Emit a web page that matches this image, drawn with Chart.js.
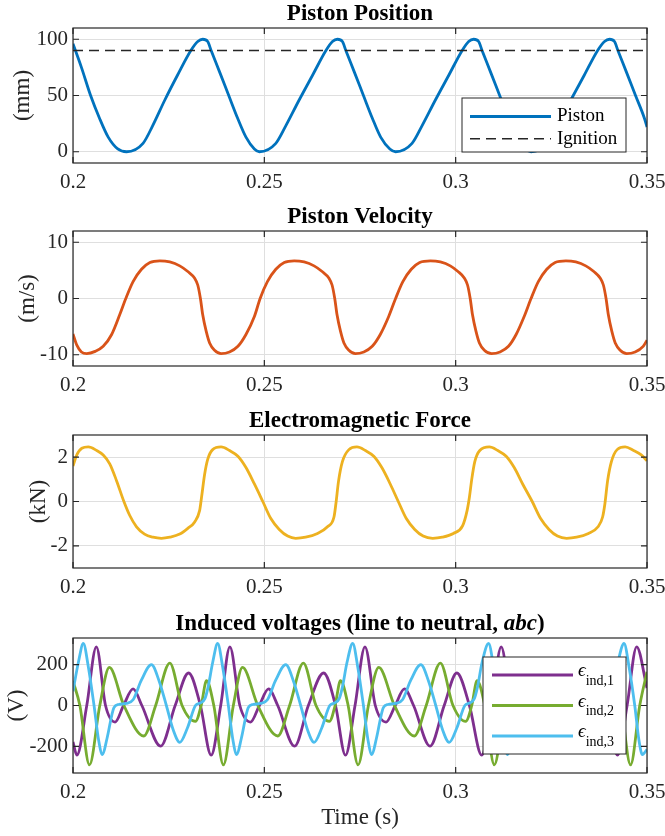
<!DOCTYPE html>
<html>
<head>
<meta charset="utf-8">
<script src="https://cdn.jsdelivr.net/npm/chart.js@4.4.1/dist/chart.umd.min.js"></script>
<style>
  html, body { margin: 0; padding: 0; background: #fff; }
  #wrap { position: relative; width: 665px; height: 836px; }
  canvas { position: absolute; left: 0; }
</style>
</head>
<body>
<div id="wrap">
  <canvas id="posChart" width="665" height="203" style="top:0px"></canvas>
  <canvas id="velChart" width="665" height="203" style="top:203px"></canvas>
  <canvas id="forceChart" width="665" height="201" style="top:407px"></canvas>
  <canvas id="voltChart" width="665" height="226" style="top:610px"></canvas>
</div>
<script>
// shared time axis
const xTicks = [0.2, 0.25, 0.3, 0.35];

// Piston position (mm)
const posTime = [0.2000, 0.2022, 0.2046, 0.2069, 0.2092, 0.2117, 0.2140,
  0.2183, 0.2208, 0.2240, 0.2273, 0.2308, 0.2326, 0.2339,
  0.2352, 0.2361, 0.2383, 0.2407, 0.2430, 0.2452, 0.2474, 0.2487,
  0.2530, 0.2556, 0.2591, 0.2626, 0.2661, 0.2678, 0.2691,
  0.2704, 0.2713, 0.2735, 0.2759, 0.2782, 0.2804, 0.2828, 0.2843,
  0.2886, 0.2912, 0.2947, 0.2982, 0.3017, 0.3034, 0.3047,
  0.3060, 0.3069, 0.3091, 0.3115, 0.3138, 0.3160, 0.3183, 0.3197,
  0.3240, 0.3266, 0.3301, 0.3336, 0.3371, 0.3389, 0.3402,
  0.3415, 0.3424, 0.3446, 0.3470, 0.3493, 0.3500];
const posMm = [96, 75, 50, 30, 13, 2.5, 0,
  7.5, 23, 46, 68, 90, 98, 100,
  98, 90, 71, 50, 30, 13, 2.5, 0,
  7.5, 23, 46, 68, 90, 98, 100,
  98, 90, 71, 50, 30, 13, 2.5, 0,
  7.5, 23, 46, 68, 90, 98, 100,
  98, 90, 71, 50, 30, 13, 2.5, 0,
  7.5, 23, 46, 68, 90, 98, 100,
  98, 90, 71, 50, 30, 22];
const ignitionTime = [0.2, 0.35];
const ignitionMm = [90, 90];
const posTicks = [0, 50, 100];

// Piston velocity (m/s)
const velTime = [0.2000, 0.2010, 0.2022, 0.2036, 0.2058, 0.2079, 0.2101, 0.2122, 0.2138,
  0.2157, 0.2179, 0.2201, 0.2227, 0.2253, 0.2279, 0.2300, 0.2318, 0.2326, 0.2333,
  0.2339, 0.2348, 0.2357, 0.2370, 0.2387, 0.2409, 0.2431, 0.2452, 0.2474, 0.2489,
  0.2508, 0.2530, 0.2552, 0.2578, 0.2604, 0.2630, 0.2651, 0.2669, 0.2677, 0.2684,
  0.2690, 0.2699, 0.2708, 0.2721, 0.2738, 0.2760, 0.2782, 0.2803, 0.2825, 0.2843,
  0.2862, 0.2884, 0.2906, 0.2934, 0.2960, 0.2986, 0.3006, 0.3023, 0.3031, 0.3038,
  0.3044, 0.3053, 0.3062, 0.3075, 0.3094, 0.3116, 0.3138, 0.3158, 0.3179, 0.3197,
  0.3216, 0.3238, 0.3260, 0.3288, 0.3314, 0.3340, 0.3361, 0.3378, 0.3386, 0.3393,
  0.3399, 0.3408, 0.3417, 0.3430, 0.3447, 0.3469, 0.3490, 0.3500];
const velMs = [-6.3, -8.3, -9.5, -9.8, -9.4, -8.5, -6.4, -2.9, 0,
  3.0, 5.2, 6.4, 6.7, 6.5, 5.8, 4.8, 3.6, 2.4, 0,
  -2.9, -5.8, -7.9, -9.2, -9.8, -9.5, -8.5, -6.4, -3.2, 0,
  3.0, 5.2, 6.4, 6.7, 6.5, 5.8, 4.8, 3.6, 2.4, 0,
  -2.9, -5.8, -7.9, -9.2, -9.8, -9.5, -8.5, -6.4, -3.2, 0,
  3.0, 5.2, 6.4, 6.7, 6.5, 5.8, 4.8, 3.6, 2.4, 0,
  -2.9, -5.8, -7.9, -9.2, -9.8, -9.5, -8.5, -6.4, -3.2, 0,
  3.0, 5.2, 6.4, 6.7, 6.5, 5.8, 4.8, 3.6, 2.4, 0,
  -2.9, -5.8, -7.9, -9.2, -9.8, -9.5, -8.5, -7.4];
const velTicks = [-10, 0, 10];

// Electromagnetic force (kN)
const forceTime = [0.2000, 0.2010, 0.2023, 0.2040, 0.2062, 0.2079, 0.2096, 0.2114, 0.2133,
  0.2148, 0.2166, 0.2187, 0.2209, 0.2231, 0.2253, 0.2279, 0.2300, 0.2318, 0.2331,
  0.2336, 0.2344, 0.2352, 0.2365, 0.2387, 0.2409, 0.2431, 0.2452, 0.2474, 0.2496,
  0.2517, 0.2539, 0.2561, 0.2582, 0.2608, 0.2639, 0.2665, 0.2682, 0.2687, 0.2694,
  0.2704, 0.2721, 0.2742, 0.2764, 0.2786, 0.2807, 0.2829, 0.2850, 0.2871, 0.2893,
  0.2915, 0.2940, 0.2965, 0.2994, 0.3018, 0.3030, 0.3036, 0.3042, 0.3050, 0.3063,
  0.3088, 0.3110, 0.3132, 0.3153, 0.3175, 0.3200, 0.3222, 0.3244, 0.3266, 0.3290,
  0.3316, 0.3347, 0.3372, 0.3384, 0.3390, 0.3397, 0.3407, 0.3422, 0.3443, 0.3465,
  0.3485, 0.3500];
const forceKn = [1.6, 2.1, 2.4, 2.46, 2.3, 2.1, 1.7, 0.93, 0,
  -0.62, -1.14, -1.47, -1.61, -1.66, -1.61, -1.47, -1.21, -0.92, -0.4,
  0.2, 1.23, 1.9, 2.34, 2.46, 2.3, 2.04, 1.53, 0.79, 0,
  -0.77, -1.26, -1.56, -1.66, -1.61, -1.44, -1.14, -0.7, -0.1, 0.93,
  1.8, 2.34, 2.46, 2.3, 2.04, 1.53, 0.79, 0, -0.77, -1.26,
  -1.56, -1.66, -1.61, -1.44, -1.1, -0.4, 0.2, 1.0, 1.8, 2.3,
  2.46, 2.3, 2.04, 1.53, 0.79, 0, -0.77, -1.26, -1.56, -1.66,
  -1.61, -1.44, -1.14, -0.7, -0.1, 0.93, 1.8, 2.34, 2.46, 2.3,
  2.1, 1.84];
const forceTicks = [-2, 0, 2];

// Induced voltages, line to neutral (V)
const e1Time = [0.2000,
  0.2010, 0.2036, 0.2061, 0.2085, 0.2110, 0.2132, 0.2157, 0.2180, 0.2229, 0.2267, 0.2302, 0.2333,
  0.2361, 0.2386, 0.2410, 0.2436, 0.2464, 0.2487, 0.2511, 0.2535, 0.2579, 0.2615, 0.2655, 0.2686,
  0.2712, 0.2737, 0.2763, 0.2790, 0.2818, 0.2842, 0.2866, 0.2890, 0.2933, 0.2970, 0.3003, 0.3036,
  0.3068, 0.3094, 0.3119, 0.3145, 0.3173, 0.3196, 0.3221, 0.3245, 0.3290, 0.3327, 0.3361, 0.3393,
  0.3423, 0.3448, 0.3473, 0.3500];
const e1Volt = [-178,
  -243, 0, 287, 0, -81, 0, 81, 0, -199, 0, 159, 0,
  -243, 0, 287, 0, -81, 0, 81, 0, -199, 0, 159, 0,
  -243, 0, 287, 0, -81, 0, 81, 0, -199, 0, 159, 0,
  -243, 0, 287, 0, -81, 0, 81, 0, -199, 0, 159, 0,
  -243, 0, 287, 85];
const e2Time = [0.2000, 0.2018,
  0.2043, 0.2070, 0.2095, 0.2133, 0.2185, 0.2216, 0.2253, 0.2285, 0.2320, 0.2335, 0.2349, 0.2368,
  0.2393, 0.2419, 0.2443, 0.2483, 0.2535, 0.2566, 0.2602, 0.2635, 0.2670, 0.2685, 0.2699, 0.2719,
  0.2745, 0.2772, 0.2799, 0.2840, 0.2892, 0.2923, 0.2960, 0.2993, 0.3026, 0.3042, 0.3056, 0.3076,
  0.3101, 0.3128, 0.3154, 0.3193, 0.3244, 0.3276, 0.3315, 0.3349, 0.3384, 0.3399, 0.3412, 0.3432,
  0.3457, 0.3481, 0.3500];
const e2Volt = [120, 0,
  -290, 0, 186, 0, -149, 0, 207, 0, -78, 0, 121, 0,
  -290, 0, 186, 0, -149, 0, 207, 0, -78, 0, 121, 0,
  -290, 0, 186, 0, -149, 0, 207, 0, -78, 0, 121, 0,
  -290, 0, 186, 0, -149, 0, 207, 0, -78, 0, 121, 0,
  -290, 0, 165];
const e3Time = [0.2000, 0.2014,
  0.2027, 0.2040, 0.2055, 0.2067, 0.2077, 0.2089, 0.2107, 0.2119, 0.2139, 0.2157, 0.2179,
  0.2205, 0.2225, 0.2244, 0.2262, 0.2279, 0.2299, 0.2320, 0.2332, 0.2345, 0.2353, 0.2365,
  0.2378, 0.2391, 0.2406, 0.2418, 0.2428, 0.2440, 0.2458, 0.2470, 0.2490, 0.2508, 0.2530,
  0.2556, 0.2576, 0.2595, 0.2613, 0.2630, 0.2650, 0.2671, 0.2683, 0.2696, 0.2704, 0.2716,
  0.2731, 0.2744, 0.2759, 0.2771, 0.2781, 0.2793, 0.2811, 0.2823, 0.2843, 0.2861, 0.2883,
  0.2909, 0.2929, 0.2948, 0.2966, 0.2983, 0.3003, 0.3024, 0.3036, 0.3049, 0.3057, 0.3069,
  0.3086, 0.3099, 0.3114, 0.3126, 0.3136, 0.3148, 0.3166, 0.3178, 0.3198, 0.3216, 0.3238,
  0.3264, 0.3284, 0.3303, 0.3321, 0.3338, 0.3358, 0.3379, 0.3391, 0.3404, 0.3412, 0.3424,
  0.3440, 0.3453, 0.3468, 0.3479, 0.3488, 0.3500];
const e3Volt = [70, 210,
  303, 190, 0, -170, -240, -160, -10, 5, 10, 28, 125,
  200, 120, 0, -120, -180, -110, 0, 12, 35, 90, 210,
  303, 190, 0, -170, -240, -160, -10, 5, 10, 28, 125,
  200, 120, 0, -120, -180, -110, 0, 12, 35, 90, 210,
  303, 190, 0, -170, -240, -160, -10, 5, 10, 28, 125,
  200, 120, 0, -120, -180, -110, 0, 12, 35, 90, 210,
  303, 190, 0, -170, -240, -160, -10, 5, 10, 28, 125,
  200, 120, 0, -120, -180, -110, 0, 12, 35, 90, 210,
  303, 190, 0, -170, -240, -215];
const voltTicks = [-200, 0, 200];

const SERIF = "'Liberation Serif', 'Times New Roman', serif";
const INK = '#262626';
const GRID = '#dfdfdf';
Chart.defaults.font.family = SERIF;
Chart.defaults.color = INK;

function pts(xs, ys) {
  return xs.map((x, i) => ({ x: x, y: ys[i] }));
}

// box around the axes with inward tick marks
const framePlugin = {
  id: 'frame',
  afterDatasetsDraw(chart) {
    const { ctx, chartArea: a, scales } = chart;
    ctx.save();
    ctx.strokeStyle = INK;
    ctx.lineWidth = 1.2;
    ctx.strokeRect(a.left, a.top, a.right - a.left, a.bottom - a.top);
    ctx.beginPath();
    scales.x.ticks.forEach(t => {
      const px = scales.x.getPixelForValue(t.value);
      ctx.moveTo(px, a.bottom); ctx.lineTo(px, a.bottom - 6);
      ctx.moveTo(px, a.top); ctx.lineTo(px, a.top + 6);
    });
    scales.y.ticks.forEach(t => {
      const py = scales.y.getPixelForValue(t.value);
      ctx.moveTo(a.left, py); ctx.lineTo(a.left + 6, py);
      ctx.moveTo(a.right, py); ctx.lineTo(a.right - 6, py);
    });
    ctx.stroke();
    ctx.restore();
  }
};

// title with mixed font runs
const titlePlugin = {
  id: 'panelTitle',
  afterDraw(chart, args, opts) {
    if (!opts.parts) return;
    const ctx = chart.ctx;
    ctx.save();
    const widths = opts.parts.map(p => { ctx.font = p.font; return ctx.measureText(p.text).width; });
    const total = widths.reduce((s, w) => s + w, 0);
    let x = (chart.chartArea.left + chart.chartArea.right) / 2 - total / 2;
    ctx.fillStyle = '#000';
    ctx.textBaseline = 'alphabetic';
    opts.parts.forEach((p, i) => {
      ctx.font = p.font;
      ctx.fillText(p.text, x, 20);
      x += widths[i];
    });
    ctx.restore();
  }
};

// boxed legend inside the axes
const boxLegend = {
  id: 'boxLegend',
  afterDraw(chart, args, o) {
    if (!o.items) return;
    const { ctx, chartArea: a } = chart;
    const x0 = a.right - o.right - o.width;
    const y0 = a.bottom - o.bottom - o.height;
    ctx.save();
    ctx.fillStyle = '#fff';
    ctx.fillRect(x0, y0, o.width, o.height);
    ctx.strokeStyle = INK;
    ctx.lineWidth = 1;
    ctx.strokeRect(x0, y0, o.width, o.height);
    o.items.forEach((it, i) => {
      const ds = chart.data.datasets[it.dataset];
      const y = y0 + o.firstRow + i * o.rowGap;
      ctx.strokeStyle = ds.borderColor;
      ctx.lineWidth = ds.borderWidth;
      ctx.setLineDash(ds.borderDash || []);
      ctx.beginPath();
      ctx.moveTo(x0 + o.lineStart, y);
      ctx.lineTo(x0 + o.lineStart + o.lineLength, y);
      ctx.stroke();
      ctx.setLineDash([]);
      ctx.fillStyle = '#000';
      ctx.textBaseline = 'middle';
      let tx = x0 + o.textStart;
      it.parts.forEach(p => {
        ctx.font = p.font;
        ctx.fillText(p.text, tx, y + (p.dy || 0));
        tx += ctx.measureText(p.text).width;
      });
    });
    ctx.restore();
  }
};

function xAxis(height, showTitle) {
  return {
    type: 'linear',
    min: 0.2,
    max: 0.35,
    afterFit(s) {
      s.height = height;
      s.paddingLeft = 0;
      s.paddingRight = 0;
    },
    afterBuildTicks(s) { s.ticks = xTicks.map(v => ({ value: v })); },
    ticks: { font: { size: 21 }, color: INK, padding: 7, maxRotation: 0, autoSkip: false,
      callback: v => String(v) },
    grid: { color: GRID, drawTicks: false },
    border: { display: false },
    title: { display: showTitle, text: 'Time (s)', font: { size: 23 }, color: INK,
      padding: { top: 0, bottom: 4 } }
  };
}

function yAxis(min, max, ticks, title, titlePad) {
  return {
    min: min,
    max: max,
    afterFit(s) {
      s.width = 73;
      s.paddingTop = 0;
      s.paddingBottom = 0;
    },
    afterBuildTicks(s) { s.ticks = ticks.map(v => ({ value: v })); },
    ticks: { font: { size: 21 }, color: INK, padding: 5, callback: v => String(v) },
    grid: { color: GRID, drawTicks: false },
    border: { display: false },
    title: { display: true, text: title, font: { size: 23 }, color: INK,
      padding: { top: titlePad, bottom: 0 } }
  };
}

function baseOptions(title, x, y, legend) {
  return {
    responsive: false,
    animation: false,
    devicePixelRatio: 1,
    layout: { padding: { top: 28, right: 18, bottom: 0, left: 0 } },
    elements: { point: { radius: 0 }, line: { cubicInterpolationMode: 'monotone' } },
    scales: { x: x, y: y },
    plugins: {
      legend: { display: false },
      tooltip: { enabled: false },
      panelTitle: { parts: title },
      boxLegend: legend || {}
    }
  };
}

const BOLD = 'bold 23px ' + SERIF;

new Chart(document.getElementById('posChart'), {
  type: 'line',
  data: {
    datasets: [
      { label: 'Piston', data: pts(posTime, posMm), borderColor: '#0072BD', borderWidth: 2.8, order: 1 },
      { label: 'Ignition', data: pts(ignitionTime, ignitionMm), borderColor: '#262626', borderWidth: 1.5,
        borderDash: [10, 6], order: 0 }
    ]
  },
  options: baseOptions([{ text: 'Piston Position', font: BOLD }], xAxis(40, false),
    yAxis(-10, 110, posTicks, '(mm)', 9), {
      right: 21, bottom: 11, width: 164, height: 54, firstRow: 18.5, rowGap: 22.3,
      lineStart: 8, lineLength: 81, textStart: 95,
      items: [
        { dataset: 0, parts: [{ text: 'Piston', font: '19px ' + SERIF }] },
        { dataset: 1, parts: [{ text: 'Ignition', font: '19px ' + SERIF }] }
      ]
    }),
  plugins: [framePlugin, titlePlugin, boxLegend]
});

new Chart(document.getElementById('velChart'), {
  type: 'line',
  data: {
    datasets: [
      { label: 'Velocity', data: pts(velTime, velMs), borderColor: '#D95319', borderWidth: 2.8 }
    ]
  },
  options: baseOptions([{ text: 'Piston Velocity', font: BOLD }], xAxis(40, false),
    yAxis(-12, 12, velTicks, '(m/s)', 13.7)),
  plugins: [framePlugin, titlePlugin, boxLegend]
});

new Chart(document.getElementById('forceChart'), {
  type: 'line',
  data: {
    datasets: [
      { label: 'Force', data: pts(forceTime, forceKn), borderColor: '#EDB120', borderWidth: 2.8 }
    ]
  },
  options: baseOptions([{ text: 'Electromagnetic Force', font: BOLD }], xAxis(40, false),
    yAxis(-3, 3, forceTicks, '(kN)', 25)),
  plugins: [framePlugin, titlePlugin, boxLegend]
});

const subFont = '14px ' + SERIF;
const epsFont = 'italic 19px ' + SERIF;
new Chart(document.getElementById('voltChart'), {
  type: 'line',
  data: {
    datasets: [
      { label: 'ϵind,1', data: pts(e1Time, e1Volt), borderColor: '#7E2F8E', borderWidth: 2.8, order: 3 },
      { label: 'ϵind,2', data: pts(e2Time, e2Volt), borderColor: '#77AC30', borderWidth: 2.8, order: 2 },
      { label: 'ϵind,3', data: pts(e3Time, e3Volt), borderColor: '#4DBEEE', borderWidth: 2.8, order: 1 }
    ]
  },
  options: baseOptions([
      { text: 'Induced voltages (line to neutral, ', font: BOLD },
      { text: 'abc', font: 'italic ' + BOLD },
      { text: ')', font: BOLD }
    ], xAxis(63, true), yAxis(-330, 330, voltTicks, '(V)', 3.2), {
      right: 21, bottom: 19, width: 143, height: 97, firstRow: 18, rowGap: 30.5,
      lineStart: 9, lineLength: 81, textStart: 95,
      items: [1, 2, 3].map(k => ({
        dataset: k - 1,
        parts: [{ text: 'ϵ', font: epsFont, dy: -4 }, { text: 'ind,' + k, font: subFont, dy: 6 }]
      }))
    }),
  plugins: [framePlugin, titlePlugin, boxLegend]
});
</script>
</body>
</html>
